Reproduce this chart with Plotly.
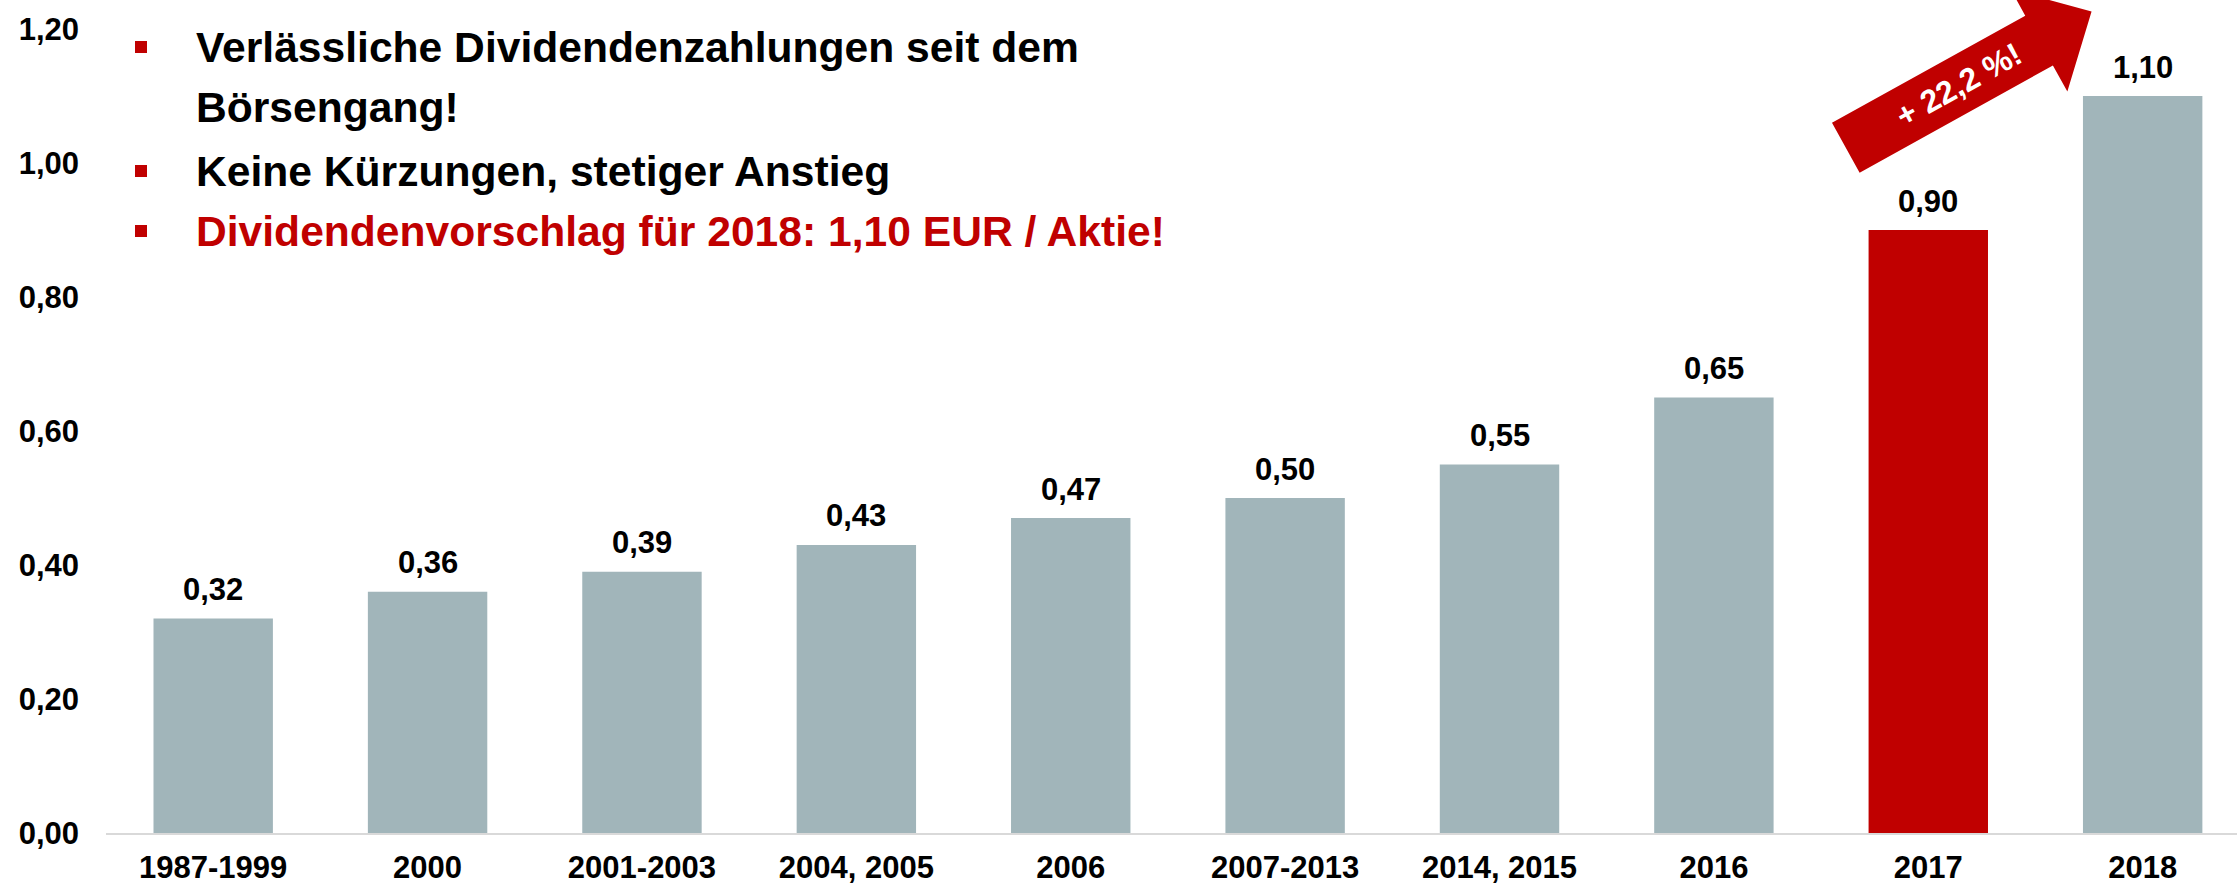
import math
import plotly.graph_objects as go

# --- data -------------------------------------------------------------
categories = ["1987-1999", "2000", "2001-2003", "2004, 2005", "2006",
              "2007-2013", "2014, 2015", "2016", "2017", "2018"]
dividends = [0.32, 0.36, 0.39, 0.43, 0.47, 0.50, 0.55, 0.65, 0.90, 1.10]
highlight_category = "2017"
y_ticks = [0.0, 0.2, 0.4, 0.6, 0.8, 1.0, 1.2]

bullet_lines = [
    ("Verlässliche Dividendenzahlungen seit dem", True, "#000000"),
    ("Börsengang!", False, "#000000"),
    ("Keine Kürzungen, stetiger Anstieg", True, "#000000"),
    ("Dividendenvorschlag für 2018: 1,10 EUR / Aktie!", True, "#C00000"),
]

# --- styling ------------------------------------------------------------
W, H = 2237, 885
M_L, M_R, M_T, M_B = 106, 0, 29, 52
GREY = "#A1B5BA"
RED = "#C00000"
FONT = "Liberation Sans, Arial, sans-serif"


def de(v):
    return f"{v:.2f}".replace(".", ",")


def px_to_paper(px, py):
    return ((px - M_L) / (W - M_L - M_R), (H - M_B - py) / (H - M_T - M_B))


bar_colors = [RED if c == highlight_category else GREY for c in categories]

fig = go.Figure(
    go.Bar(
        x=list(range(len(categories))),
        y=dividends,
        marker=dict(color=bar_colors, line=dict(width=0)),
        width=0.557,
        hoverinfo="skip",
    )
)

# value labels above each bar
for i, v in enumerate(dividends):
    fig.add_annotation(
        x=i, y=v, xref="x", yref="y", text=de(v), showarrow=False,
        xanchor="center", yanchor="middle", yshift=29,
        font=dict(family=FONT, size=31, color="#000000", weight="bold"),
    )

# bullet text block
text_rows_y = [47, 107, 171, 231]
for (txt, has_bullet, col), cy in zip(bullet_lines, text_rows_y):
    xp, yp = px_to_paper(194, cy)
    fig.add_annotation(
        x=xp, y=yp, xref="paper", yref="paper", text=txt, showarrow=False,
        xanchor="left", yanchor="middle",
        font=dict(family=FONT, size=42.6, color=col, weight="bold"),
    )
    if has_bullet:
        x0, y0 = px_to_paper(135, cy - 6)
        x1, y1 = px_to_paper(147, cy + 6)
        fig.add_shape(type="rect", xref="paper", yref="paper",
                      x0=x0, y0=y1, x1=x1, y1=y0,
                      fillcolor=RED, line=dict(width=0), layer="above")

# growth arrow between the last two bars
growth = (dividends[-1] / dividends[-2] - 1) * 100
ang = math.radians(29)
ux, uy = math.cos(ang), -math.sin(ang)
nx, ny = math.sin(ang), math.cos(ang)
tx, ty = 1845.8, 147.7
shaft_hw, head_hw, head_at, tip_at = 28.5, 58.3, 221, 281
pts = [
    (tx - nx * shaft_hw, ty - ny * shaft_hw),
    (tx + ux * head_at - nx * shaft_hw, ty + uy * head_at - ny * shaft_hw),
    (tx + ux * head_at - nx * head_hw, ty + uy * head_at - ny * head_hw),
    (tx + ux * tip_at, ty + uy * tip_at),
    (tx + ux * head_at + nx * head_hw, ty + uy * head_at + ny * head_hw),
    (tx + ux * head_at + nx * shaft_hw, ty + uy * head_at + ny * shaft_hw),
    (tx + nx * shaft_hw, ty + ny * shaft_hw),
]
path = "M " + " L ".join("{:.5f},{:.5f}".format(*px_to_paper(x, y)) for x, y in pts) + " Z"
fig.add_shape(type="path", path=path, xref="paper", yref="paper",
              fillcolor=RED, line=dict(width=0), layer="above")
lx, ly = px_to_paper(tx + ux * 129, ty + uy * 129)
fig.add_annotation(
    x=lx, y=ly, xref="paper", yref="paper",
    text=f"+ {growth:.1f} %!".replace(".", ","), showarrow=False,
    textangle=-29, xanchor="center", yanchor="middle",
    font=dict(family=FONT, size=32, color="#FFFFFF", weight="bold"),
)

fig.update_layout(
    width=W, height=H,
    margin=dict(l=M_L, r=M_R, t=M_T, b=M_B, pad=0),
    paper_bgcolor="#FFFFFF", plot_bgcolor="#FFFFFF",
    showlegend=False,
    separators=",.",
    font=dict(family=FONT),
)
fig.update_xaxes(
    range=[-0.5, 9.44],
    tickmode="array", tickvals=list(range(len(categories))), ticktext=categories,
    tickfont=dict(family=FONT, size=31, color="#000000", weight="bold"),
    showgrid=False, zeroline=False,
    showline=True, linecolor="#D9D9D9", linewidth=2,
    ticks="", ticklabelstandoff=6, automargin=False, fixedrange=True,
)
fig.update_yaxes(
    range=[0, 1.2],
    tickmode="array", tickvals=y_ticks, ticktext=[de(t) for t in y_ticks],
    tickfont=dict(family=FONT, size=31, color="#000000", weight="bold"),
    showgrid=False, zeroline=False, showline=False,
    ticks="", ticklabelstandoff=26, automargin=False, fixedrange=True,
)

fig.write_html("out.html", config={"displayModeBar": False})
